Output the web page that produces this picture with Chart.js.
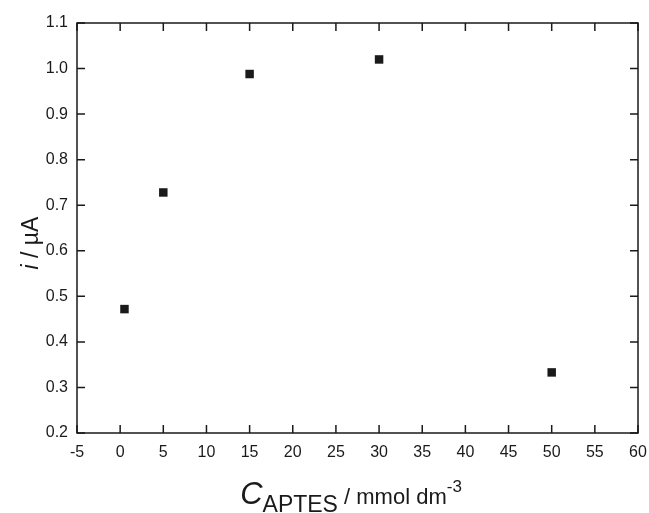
<!DOCTYPE html>
<html>
<head>
<meta charset="utf-8">
<script src="https://cdn.jsdelivr.net/npm/chart.js@4.4.1/dist/chart.umd.min.js"></script>
<style>
  html, body { margin: 0; padding: 0; background: #fff; }
  #wrap { width: 649px; height: 513px; }
</style>
</head>
<body>
<div id="wrap"><canvas id="scatter1" width="649" height="513"></canvas></div>
<script>
// concentration of APTES (mmol dm-3) vs current (uA)
var concAPTES = [0.5, 5, 15, 30, 50];
var currentUA = [0.472, 0.728, 0.988, 1.02, 0.333];

var xTicks = [-5, 0, 5, 10, 15, 20, 25, 30, 35, 40, 45, 50, 55, 60];
var yTicks = [0.2, 0.3, 0.4, 0.5, 0.6, 0.7, 0.8, 0.9, 1.0, 1.1];

var ink = '#1a1a1a';
var fam = 'Liberation Sans, Arial, sans-serif';
var tickFont = { family: fam, size: 16 };

var points = concAPTES.map(function (c, i) { return { x: c, y: currentUA[i] }; });

// frame + inward ticks on all four sides, plus the axis titles
var framePlugin = {
  id: 'frame',
  afterDraw: function (chart) {
    var ctx = chart.ctx, a = chart.chartArea;
    var xs = chart.scales.x, ys = chart.scales.y;
    var len = 8;
    ctx.save();
    ctx.strokeStyle = ink;
    ctx.lineWidth = 1.5;
    ctx.strokeRect(a.left, a.top, a.right - a.left, a.bottom - a.top);
    ctx.beginPath();
    xTicks.forEach(function (v) {
      var px = xs.getPixelForValue(v);
      ctx.moveTo(px, a.bottom); ctx.lineTo(px, a.bottom - len);
      ctx.moveTo(px, a.top); ctx.lineTo(px, a.top + len);
    });
    yTicks.forEach(function (v) {
      var py = ys.getPixelForValue(v);
      ctx.moveTo(a.left, py); ctx.lineTo(a.left + len, py);
      ctx.moveTo(a.right, py); ctx.lineTo(a.right - len, py);
    });
    ctx.stroke();

    // x title: C_APTES / mmol dm^-3
    ctx.fillStyle = ink;
    ctx.textBaseline = 'alphabetic';
    ctx.textAlign = 'left';
    var parts = [
      { t: 'C', f: 'italic 31px ' + fam, dy: 0 },
      { t: 'APTES', f: '23px ' + fam, dy: 8 },
      { t: ' / mmol dm', f: '22px ' + fam, dy: 0 },
      { t: '-3', f: '17px ' + fam, dy: -12 }
    ];
    var total = 0;
    parts.forEach(function (p) { ctx.font = p.f; p.w = ctx.measureText(p.t).width; total += p.w; });
    var x0 = 351 - total / 2, base = 504;
    parts.forEach(function (p) {
      ctx.font = p.f;
      ctx.fillText(p.t, x0, base + p.dy);
      x0 += p.w;
    });

    // y title: i / uA
    ctx.translate(38, 243);
    ctx.rotate(-Math.PI / 2);
    var yp = [
      { t: 'i', f: 'italic 23px ' + fam },
      { t: ' / \u00b5A', f: '23px ' + fam }
    ];
    var tw = 0;
    yp.forEach(function (p) { ctx.font = p.f; p.w = ctx.measureText(p.t).width; tw += p.w; });
    var yx = -tw / 2;
    yp.forEach(function (p) { ctx.font = p.f; ctx.fillText(p.t, yx, 0); yx += p.w; });
    ctx.restore();
  }
};

var scatterChart = new Chart(document.getElementById('scatter1'), {
  type: 'scatter',
  data: {
    datasets: [{
      label: 'i',
      data: points,
      pointStyle: 'rect',
      pointRadius: 6,
      pointHoverRadius: 6,
      backgroundColor: ink,
      borderColor: ink,
      borderWidth: 0
    }]
  },
  options: {
    responsive: false,
    animation: false,
    layout: { padding: { top: 23, right: 11, left: 0, bottom: 0 } },
    plugins: { legend: { display: false }, tooltip: { enabled: false } },
    scales: {
      x: {
        type: 'linear',
        min: -5,
        max: 60,
        afterBuildTicks: function (s) { s.ticks = xTicks.map(function (v) { return { value: v }; }); },
        afterFit: function (s) { s.height = 80; s.paddingLeft = 0; s.paddingRight = 0; },
        grid: { display: false, drawTicks: false },
        border: { display: false },
        ticks: { color: ink, font: tickFont, padding: 10, maxRotation: 0, autoSkip: false }
      },
      y: {
        type: 'linear',
        min: 0.2,
        max: 1.1,
        afterBuildTicks: function (s) { s.ticks = yTicks.map(function (v) { return { value: v }; }); },
        afterFit: function (s) { s.width = 77; s.paddingTop = 0; s.paddingBottom = 0; },
        grid: { display: false, drawTicks: false },
        border: { display: false },
        ticks: {
          color: ink, font: tickFont, padding: 9, autoSkip: false,
          callback: function (v) { return v.toFixed(1); }
        }
      }
    }
  },
  plugins: [framePlugin]
});
</script>
</body>
</html>
